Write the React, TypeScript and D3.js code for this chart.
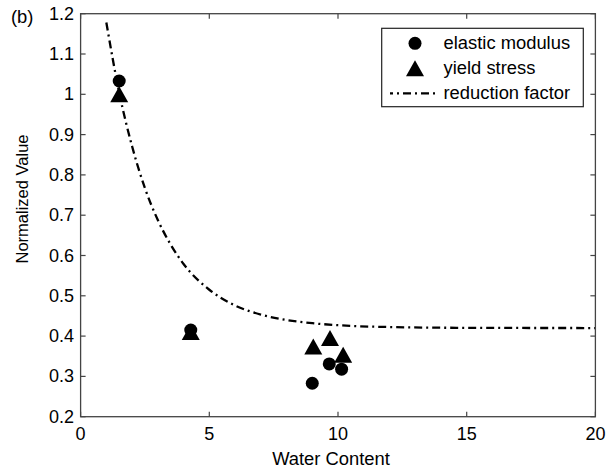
import React from "react";
import * as d3 from "d3";

const xTicks = [0, 5, 10, 15, 20];
const yTicks = [0.2, 0.3, 0.4, 0.5, 0.6, 0.7, 0.8, 0.9, 1, 1.1, 1.2];

const elasticX = [1.5, 4.28, 9.0, 9.66, 10.14];
const elasticY = [1.033, 0.415, 0.283, 0.331, 0.318];

const yieldX = [1.5, 4.28, 9.04, 9.69, 10.2];
const yieldY = [1.0, 0.41, 0.374, 0.395, 0.354];

const curveX = [1, 1.5, 2, 2.5, 3, 3.5, 4, 5, 6, 7, 8, 9, 10, 12, 15, 20];
const curveY = [1.178, 1.004, 0.871, 0.767, 0.688, 0.627, 0.579, 0.515, 0.476, 0.4535, 0.44, 0.432, 0.427, 0.4225, 0.4205, 0.42];

const legendLabels = ["elastic modulus", "yield stress", "reduction factor"];

const W = 615, H = 468;
const M = { left: 80.6, right: 595.4, top: 13.7, bottom: 416.7 };
const FONT = "'Liberation Sans', Arial, Helvetica, sans-serif";

function T({ x, y, anchor = "start", children, size = 17.5, sx = 1.03, rotate = 0 }: any) {
  const tr = rotate
    ? `translate(${x},${y}) rotate(${rotate})`
    : `translate(${x},${y}) scale(${sx},1)`;
  return (
    <text transform={tr} textAnchor={anchor} fontFamily={FONT} fontSize={size} fill="#000">
      {children}
    </text>
  );
}

function tri(cx: number, cy: number, w = 18, h = 16) {
  return `M${cx},${cy - h / 2}L${cx - w / 2},${cy + h / 2}L${cx + w / 2},${cy + h / 2}Z`;
}

export default function App() {
  const x = d3.scaleLinear().domain([0, 20]).range([M.left, M.right]);
  const y = d3.scaleLinear().domain([0.2, 1.2]).range([M.bottom, M.top]);
  const line = d3
    .line<number>()
    .x((_, i) => x(curveX[i]))
    .y((d) => y(d))
    .curve(d3.curveMonotoneX);
  const axisColor = "#444";
  const tl = 5;
  const dash = "8,4,2,4";

  const lg = { x0: 381.7, y0: 28.3, x1: 583.3, y1: 106.7 };
  const rows = [43.3, 68.3, 93.3];

  return (
    <svg width={W} height={H} style={{ position: "absolute", left: 0, top: 0, background: "#fff" }}>
      <rect x={0} y={0} width={W} height={H} fill="#fff" />
      <path d={line(curveY) || ""} fill="none" stroke="#000" strokeWidth={2.3} strokeDasharray={dash} />
      {elasticX.map((vx, i) => (
        <circle key={"c" + i} cx={x(vx)} cy={y(elasticY[i])} r={6.5} fill="#000" />
      ))}
      {yieldX.map((vx, i) => (
        <path key={"t" + i} d={tri(x(vx), y(yieldY[i]))} fill="#000" />
      ))}
      <rect x={M.left} y={M.top} width={M.right - M.left} height={M.bottom - M.top} fill="none" stroke={axisColor} strokeWidth={1.3} />
      {xTicks.map((t) => (
        <g key={"xt" + t}>
          <line x1={x(t)} x2={x(t)} y1={M.bottom} y2={M.bottom - tl} stroke={axisColor} strokeWidth={1.2} />
          <line x1={x(t)} x2={x(t)} y1={M.top} y2={M.top + tl} stroke={axisColor} strokeWidth={1.2} />
          <T x={x(t)} y={M.bottom + 23.5} anchor="middle">{String(t)}</T>
        </g>
      ))}
      {yTicks.map((t) => (
        <g key={"yt" + t}>
          <line x1={M.left} x2={M.left + tl} y1={y(t)} y2={y(t)} stroke={axisColor} strokeWidth={1.2} />
          <line x1={M.right} x2={M.right - tl} y1={y(t)} y2={y(t)} stroke={axisColor} strokeWidth={1.2} />
          <T x={74} y={y(t) + 6} anchor="end">{d3.format("~g")(t)}</T>
        </g>
      ))}
      <T x={331} y={465} anchor="middle" sx={1.05}>Water Content</T>
      <T x={28} y={199} anchor="middle" rotate={-90} size={16.5}>Normalized Value</T>
      <T x={11} y={23} sx={1.05}>(b)</T>
      <rect x={lg.x0} y={lg.y0} width={lg.x1 - lg.x0} height={lg.y1 - lg.y0} fill="#fff" stroke="#222" strokeWidth={1.2} />
      <circle cx={415} cy={rows[0]} r={6.5} fill="#000" />
      <path d={tri(415, rows[1])} fill="#000" />
      <line x1={390} x2={436} y1={rows[2]} y2={rows[2]} stroke="#000" strokeWidth={2.3} strokeDasharray={dash} strokeDashoffset={5} />
      {legendLabels.map((l, i) => (
        <T key={l} x={443.5} y={rows[i] + 6} sx={1.05}>{l}</T>
      ))}
    </svg>
  );
}
